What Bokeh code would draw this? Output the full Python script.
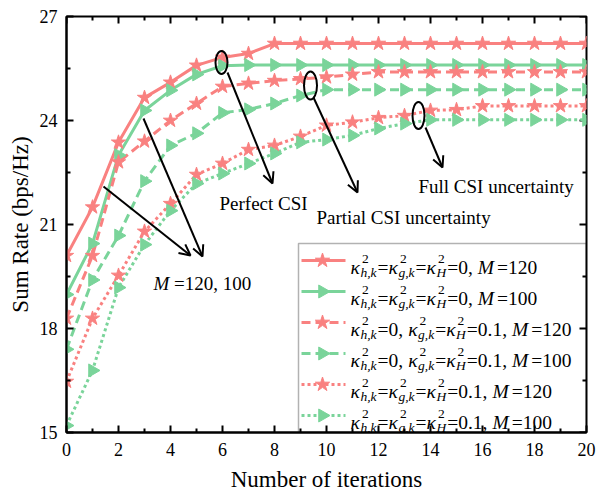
import numpy as np
from bokeh.plotting import figure
from bokeh.models import (Range1d, FixedTicker, Label, Arrow, OpenHead, BoxAnnotation)
from bokeh.embed import file_html
from bokeh.resources import INLINE

# ---------------- data ----------------
iterations = list(range(21))
rate_perfect_m120 = [20.1, 21.5, 23.37, 24.66, 25.1, 25.59, 25.82, 25.93, 26.22, 26.22, 26.22,
                     26.22, 26.22, 26.22, 26.22, 26.22, 26.22, 26.22, 26.22, 26.22, 26.22]
rate_perfect_m100 = [18.98, 20.45, 23.0, 24.29, 24.87, 25.33, 25.58, 25.6, 25.6, 25.6, 25.6,
                     25.6, 25.6, 25.6, 25.6, 25.6, 25.6, 25.6, 25.6, 25.6, 25.6]
rate_partial_m120 = [18.29, 20.1, 22.8, 23.4, 24.0, 24.49, 24.98, 25.07, 25.15, 25.2, 25.25,
                     25.33, 25.4, 25.4, 25.4, 25.4, 25.4, 25.4, 25.4, 25.4, 25.4]
rate_partial_m100 = [17.4, 19.4, 20.68, 22.25, 23.28, 23.63, 24.22, 24.32, 24.49, 24.72, 24.89,
                     24.89, 24.89, 24.89, 24.89, 24.89, 24.89, 24.89, 24.89, 24.89, 24.89]
rate_full_m120 = [16.47, 18.29, 19.53, 20.8, 21.6, 22.44, 22.76, 23.16, 23.28, 23.54, 23.86,
                  23.95, 24.08, 24.14, 24.29, 24.31, 24.42, 24.42, 24.42, 24.42, 24.42]
rate_full_m100 = [15.2, 16.79, 19.18, 20.42, 21.4, 22.18, 22.47, 22.76, 23.05, 23.37, 23.45,
                  23.57, 23.77, 23.91, 24.02, 24.02, 24.02, 24.02, 24.02, 24.02, 24.02]

x_major_ticks = [0, 2, 4, 6, 8, 10, 12, 14, 16, 18, 20]
x_minor_ticks = [1, 3, 5, 7, 9, 11, 13, 15, 17, 19]
y_major_ticks = [15, 18, 21, 24, 27]
y_minor_ticks = [16.5, 19.5, 22.5, 25.5]

x_axis_title = "Number of iterations"
y_axis_title = "Sum Rate (bps/Hz)"

# legend entries: ("K", subscript) = kappa^2_sub ; ("t", text) regular ; ("i", text) italic
legend_labels = [
    [("K", "h,k"), ("t", "="), ("K", "g,k"), ("t", "="), ("K", "H"), ("t", "=0,"), ("i", "M"), ("t", "=120")],
    [("K", "h,k"), ("t", "="), ("K", "g,k"), ("t", "="), ("K", "H"), ("t", "=0,"), ("i", "M"), ("t", "=100")],
    [("K", "h,k"), ("t", "=0,"), ("K", "g,k"), ("t", "="), ("K", "H"), ("t", "=0.1,"), ("i", "M"), ("t", "=120")],
    [("K", "h,k"), ("t", "=0,"), ("K", "g,k"), ("t", "="), ("K", "H"), ("t", "=0.1,"), ("i", "M"), ("t", "=100")],
    [("K", "h,k"), ("t", "="), ("K", "g,k"), ("t", "="), ("K", "H"), ("t", "=0.1,"), ("i", "M"), ("t", "=120")],
    [("K", "h,k"), ("t", "="), ("K", "g,k"), ("t", "="), ("K", "H"), ("t", "=0.1,"), ("i", "M"), ("t", "=100")],
]

# ---------------- styles / layout ----------------
RED = "#F98180"
GREEN = "#7AD49A"
FONT = "Liberation Serif"

series = [
    (rate_perfect_m120, RED, "solid", "star"),
    (rate_perfect_m100, GREEN, "solid", "triangle"),
    (rate_partial_m120, RED, "9 5", "star"),
    (rate_partial_m100, GREEN, "9 5", "triangle"),
    (rate_full_m120, RED, "3 3", "star"),
    (rate_full_m100, GREEN, "3 3", "triangle"),
]

W, H = 604, 494
FL, FR, FT, FB = 66, 586, 16, 432
X0, X1, Y0, Y1 = 0, 20, 15, 27


def dx(px):
    return X0 + (px - FL) * (X1 - X0) / (FR - FL)


def dy(py):
    return Y1 - (py - FT) * (Y1 - Y0) / (FB - FT)


p = figure(width=W, height=H, output_backend="svg", toolbar_location=None,
           x_range=Range1d(X0, X1), y_range=Range1d(Y0, Y1),
           min_border_left=FL, min_border_right=W - FR,
           min_border_top=FT, min_border_bottom=H - FB,
           x_axis_label=x_axis_title, y_axis_label=y_axis_title)
p.xgrid.visible = False
p.ygrid.visible = False
p.outline_line_color = "black"
p.outline_line_width = 2
p.background_fill_color = "white"
p.border_fill_color = "white"

bx = p.xaxis[0]
ly = p.yaxis[0]
bx.ticker = FixedTicker(ticks=x_major_ticks, minor_ticks=x_minor_ticks)
ly.ticker = FixedTicker(ticks=y_major_ticks, minor_ticks=y_minor_ticks)

for ax in [bx, ly]:
    ax.axis_line_width = 2
    ax.axis_line_color = "black"
    ax.major_tick_in = 7
    ax.major_tick_out = 0
    ax.minor_tick_in = 4
    ax.minor_tick_out = 0
    ax.major_tick_line_width = 2
    ax.minor_tick_line_width = 2
    ax.major_tick_line_color = "black"
    ax.minor_tick_line_color = "black"
    ax.major_label_text_font = FONT
    ax.major_label_text_font_size = "18px"
    ax.major_label_text_color = "black"
    ax.axis_label_text_font = FONT
    ax.axis_label_text_font_style = "normal"
    ax.axis_label_text_color = "black"
    ax.axis_label_text_font_size = "23px"
bx.major_label_standoff = 10
ly.major_label_standoff = 9
bx.axis_label_standoff = 8
ly.axis_label_standoff = 4

# ticks on the top and right edges of the box
xt_all = x_major_ticks + x_minor_ticks
xt_len = [7] * len(x_major_ticks) + [4] * len(x_minor_ticks)
p.segment(x0=xt_all, y0=[Y1] * len(xt_all), x1=xt_all, y1=[dy(FT + L) for L in xt_len],
          line_color="black", line_width=2)
yt_all = y_major_ticks + y_minor_ticks
yt_len = [7] * len(y_major_ticks) + [4] * len(y_minor_ticks)
p.segment(x0=[X1] * len(yt_all), y0=yt_all, x1=[dx(FR - L) for L in yt_len], y1=yt_all,
          line_color="black", line_width=2)

# ---------------- data lines ----------------
for vals, col, dash, mk in series:
    p.line(iterations, vals, line_color=col, line_width=3, line_dash=dash)
for vals, col, dash, mk in series:
    if mk == "star":
        p.scatter(iterations, vals, marker="star", size=15, fill_color=col, line_color=col)
    else:
        p.scatter(iterations, vals, marker="triangle", size=13, angle=-np.pi / 2,
                  fill_color=col, line_color=col)

# ---------------- annotations ----------------
ell_x = [dx(221), dx(310), dx(418)]
ell_y = [dy(62), dy(85), dy(115)]
ell_w = [dx(66 + 12), dx(66 + 13), dx(66 + 12)]
ell_h = [Y1 - dy(16 + 23), Y1 - dy(16 + 28), Y1 - dy(16 + 27)]
p.ellipse(x=ell_x, y=ell_y, width=ell_w, height=ell_h, fill_color=None,
          line_color="black", line_width=2)

arrows = [((227, 72), (272, 183)), ((313, 97), (357, 192)), ((425, 127), (442, 167)),
          ((103, 186), (190, 255)), ((143, 118), (202, 256))]
for (sx, sy), (ex, ey) in arrows:
    p.add_layout(Arrow(end=OpenHead(size=11, line_width=2, line_color="black"),
                       x_start=dx(sx), y_start=dy(sy), x_end=dx(ex), y_end=dy(ey),
                       line_width=2, line_color="black"))

ann_texts = [("Perfect CSI", 219, 203), ("Partial CSI uncertainty", 316, 217),
             ("Full CSI uncertainty", 418, 186)]
for t, px, py in ann_texts:
    p.add_layout(Label(x=dx(px), y=dy(py), text=t, text_font=FONT, text_font_size="19px",
                       text_baseline="alphabetic", text_align="left", text_color="black"))

WID_REG = {c: 0.5 for c in "0123456789"}
WID_REG.update({"=": 0.564, ",": 0.25, " ": 0.25, ".": 0.25})
WID_IT = {"κ": 0.56, "h": 0.5, "k": 0.444, "g": 0.5, "H": 0.722, "M": 0.833, ",": 0.25, " ": 0.25}


def tw(s, size, italic):
    tab = WID_IT if italic else WID_REG
    return sum(tab.get(c, 0.5) for c in s) * size


def add_text(px, py, s, size, italic):
    p.add_layout(Label(x=dx(px), y=dy(py), text=s, text_font=FONT,
                       text_font_size=f"{size}px",
                       text_font_style="italic" if italic else "normal",
                       text_baseline="alphabetic", text_align="left", text_color="black"))


# "M =120, 100"
mx = 153
add_text(mx, 283, "M", 19, True)
add_text(mx + tw("M ", 19, True), 283, "=120, 100", 19, False)

# ---------------- legend ----------------
LG_L, LG_T = 298, 243
p.add_layout(BoxAnnotation(left=dx(LG_L), right=X1, bottom=Y0, top=dy(LG_T),
                           fill_color=None, line_color="black", line_width=1.5))
BS, SS = 19.5, 13.5
for i, (tokens, (vals, col, dash, mk)) in enumerate(zip(legend_labels, series)):
    base = 267 + 31 * i
    cy = base - 7
    p.line([dx(301), dx(345)], [dy(cy), dy(cy)], line_color=col, line_width=3, line_dash=dash)
    if mk == "star":
        p.scatter([dx(322)], [dy(cy)], marker="star", size=15, fill_color=col, line_color=col)
    else:
        p.scatter([dx(322)], [dy(cy)], marker="triangle", size=13, angle=-np.pi / 2,
                  fill_color=col, line_color=col)
    x = 350
    for kind, s in tokens:
        if kind == "K":
            add_text(x, base, "κ", BS, True)
            xk = x + tw("κ", BS, True)
            add_text(xk + 0.5, base - 9, "2", SS, False)
            add_text(xk - 1, base + 5, s, SS, True)
            x = xk + max(tw("2", SS, False), tw(s, SS, True))
        elif kind == "t":
            add_text(x, base, s, BS, False)
            x += tw(s, BS, False)
            if s.endswith(","):
                x += 5
        else:
            add_text(x, base, s, BS, True)
            x += tw(s, BS, True) + 3

open("out.html", "w").write(file_html(p, INLINE))
